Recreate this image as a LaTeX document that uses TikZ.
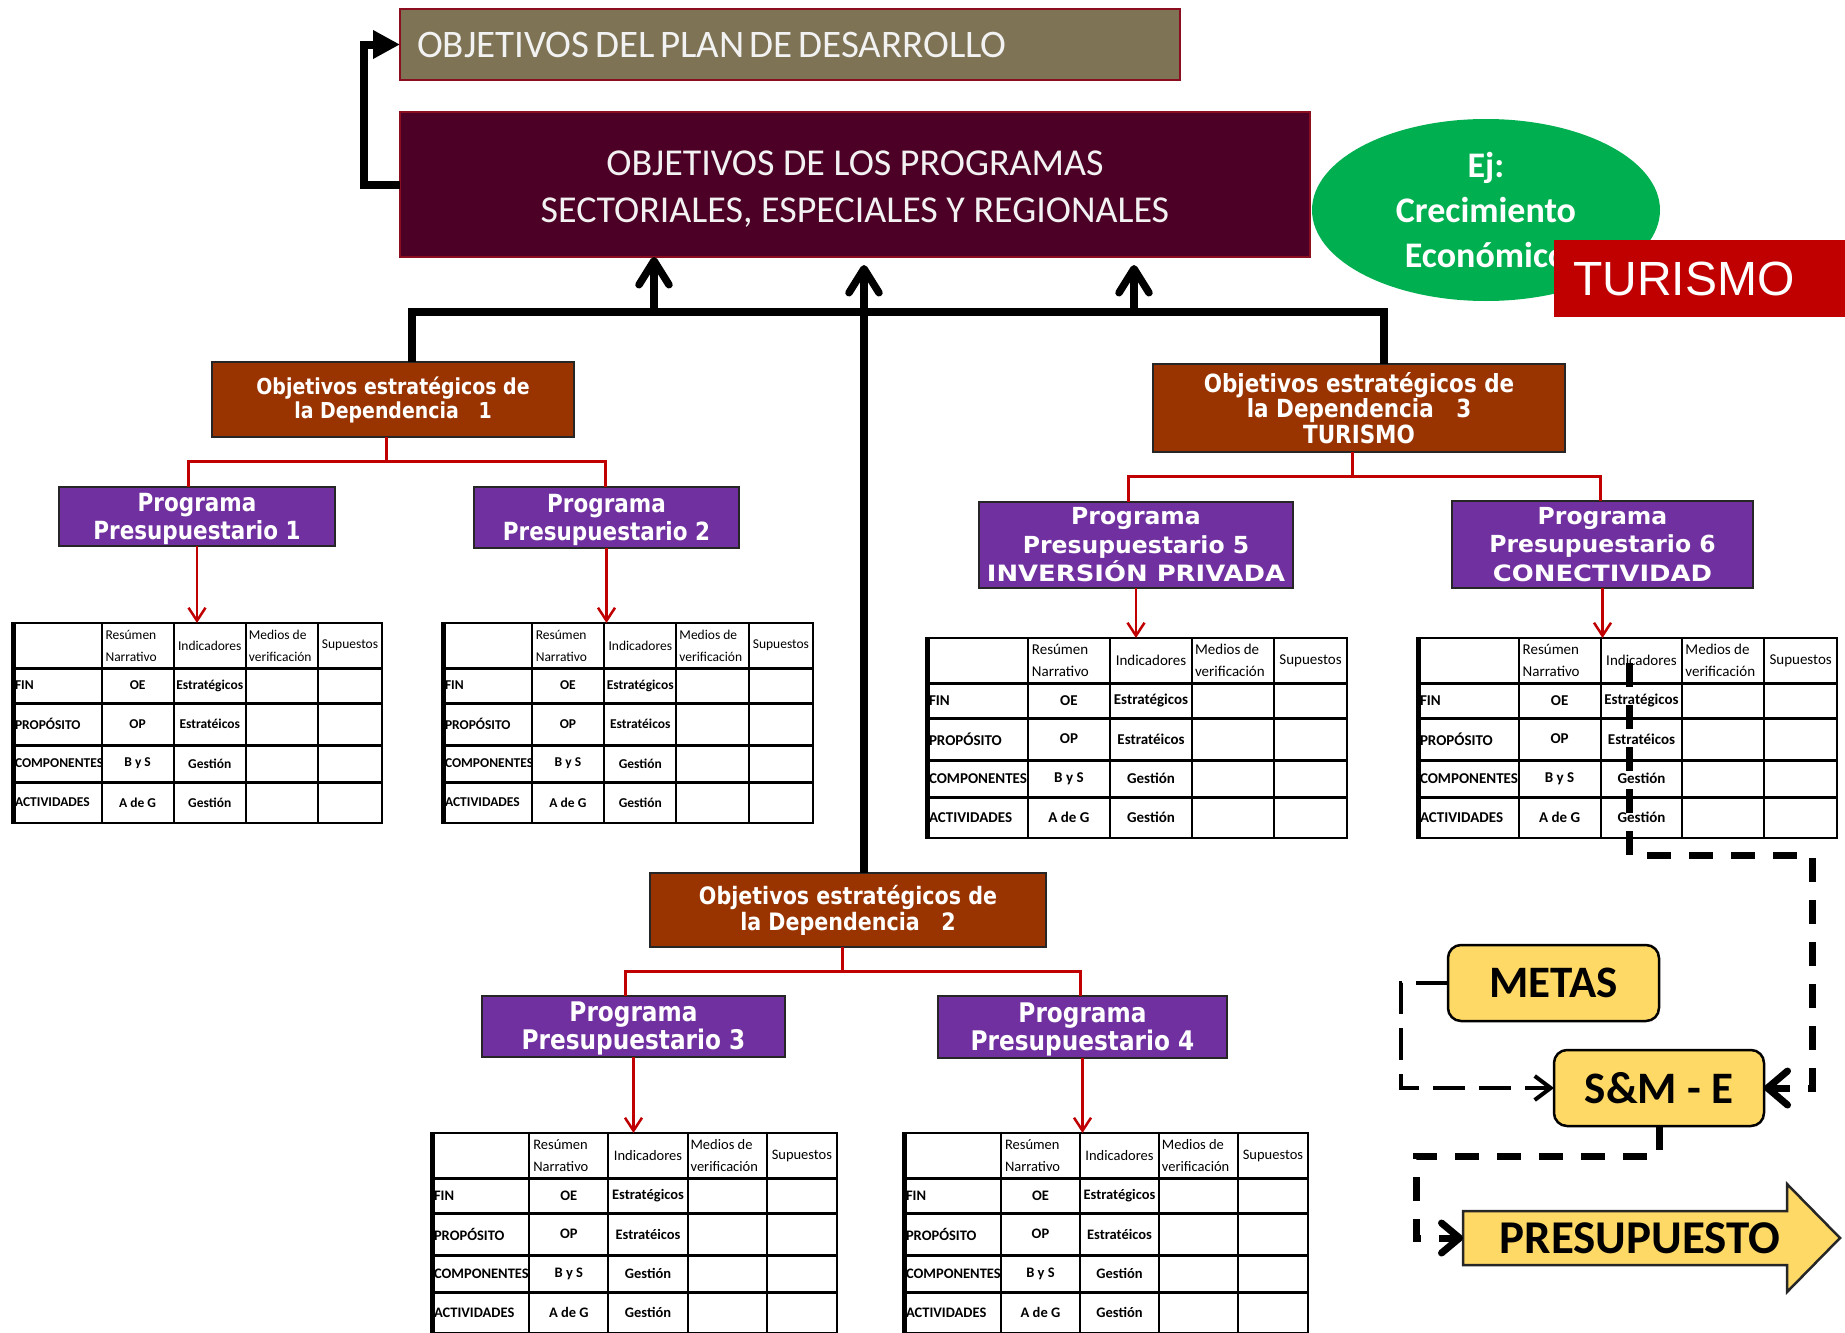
\documentclass[tikz,border=0pt]{standalone}
\usepackage{fontspec}
\setmainfont{Carlito}
\newfontfamily\condfont{DejaVu Sans}[FakeStretch=0.86]
\newfontfamily\plainfont{DejaVu Sans}
\newfontfamily\widefont{DejaVu Sans}[FakeStretch=1.15]
\newfontfamily\arialfont{Liberation Sans}
\usetikzlibrary{arrows.meta,shapes.geometric,backgrounds,calc}

\definecolor{tanbox}{HTML}{7F7355}
\definecolor{maroonbox}{HTML}{4D0026}
\definecolor{boxedge}{HTML}{8B0E20}
\definecolor{depfill}{HTML}{993300}
\definecolor{progfill}{HTML}{7030A0}
\definecolor{linkred}{HTML}{C00000}
\definecolor{ejgreen}{HTML}{00B050}
\definecolor{turred}{HTML}{C00000}
\definecolor{goldfill}{HTML}{FFD966}
\definecolor{lighttext}{HTML}{F2F2F2}

\newcommand{\tightspaces}{\spaceskip=5.5pt plus 1pt\relax}

\tikzset{
  every node/.style={inner sep=0pt, outer sep=0pt},
  plandesbox/.style={fill=tanbox, draw=boxedge, line width=1.5pt, text=lighttext,
    minimum width=780pt, minimum height=71pt, text width=746pt, align=left,
    font=\fontsize{39}{47}\selectfont},
  progsecbox/.style={fill=maroonbox, draw=boxedge, line width=1.5pt, text=lighttext,
    minimum width=910pt, minimum height=145pt, align=center,
    font=\fontsize{38}{47}\selectfont},
  ejell/.style={ellipse, fill=ejgreen, text=white, minimum width=348pt,
    minimum height=182pt, align=center, font=\bfseries\fontsize{36}{45}\selectfont},
  turbox/.style={fill=turred, text=white, minimum width=291pt, minimum height=77pt,
    text width=253pt, align=left, font=\arialfont\fontsize{48}{52}\selectfont},
  depbox/.style={fill=depfill, draw=black!85, line width=1.5pt, text=white, align=center},
  progbox/.style={fill=progfill, draw=black!85, line width=1.5pt, text=white, align=center},
  goldbox/.style={rounded corners=13pt, fill=goldfill, draw=black, line width=2.5pt,
    minimum width=211pt, minimum height=76pt, font=\bfseries\fontsize{45}{50}\selectfont},
  presbody/.style={minimum width=354pt, minimum height=54pt,
    font=\bfseries\fontsize{47}{50}\selectfont},
  blackbus/.style={line width=7.5pt, line join=miter},
  bustip/.style={-{Straight Barb[length=24pt,width=30pt,round]}},
  redlink/.style={draw=linkred, line width=3pt},
  redarrow/.style={draw=linkred, line width=2.5pt, -{Straight Barb[length=13pt,width=17pt]}},
  dashthick/.style={line width=7pt, dash pattern=on 24pt off 18pt},
  dashthin/.style={line width=4pt, dash pattern=on 32pt off 14pt},
  tabframe/.style={draw, line width=2.5pt, minimum height=200pt},
  tabcol/.style={line width=2pt},
  tabrow/.style={line width=3pt},
  tabedge/.style={line width=3pt},
}

% logical framework matrix: #1 name, #2 left, #3 top, #4 width, #5 font size
\newcommand{\lfmtable}[5]{%
  \begin{scope}[shift={(#2,#3)}]
    \node[tabframe, minimum width=#4pt, anchor=north west] (#1) at (0,0) {};
    \foreach \f in {0.242,0.437,0.632,0.827}
      \draw[tabcol] (\f*#4,0) -- (\f*#4,200);
    \foreach \r in {45,80,122,159}
      \draw[tabrow] (0,\r) -- (#4,\r);
    \draw[tabedge] (2,0) -- (2,200);
    \begin{scope}[every node/.append style={font=\fontsize{#5}{22}\selectfont}]
      \node[anchor=west, align=left] (#1-h2) at (0.242*#4+4,22.5) {Resúmen\\Narrativo};
      \node (#1-h3) at (0.5345*#4,22.5) {Indicadores};
      \node[anchor=west, align=left] (#1-h4) at (0.632*#4+3,22.5) {Medios de\\verificación};
      \node (#1-h5) at (0.9135*#4,22.5) {Supuestos};
      \foreach \lab/\nar/\ind/\yc [count=\k] in {FIN/OE/Estratégicos/62.5,
          PROPÓSITO/OP/Estratéicos/101, COMPONENTES/B y S/Gestión/140.5,
          ACTIVIDADES/A de G/Gestión/179.5}{
        \node[anchor=west, font=\bfseries\fontsize{#5}{22}\selectfont] (#1-a\k) at (3,\yc) {\lab};
        \node[font=\bfseries\fontsize{#5}{22}\selectfont] (#1-b\k) at (0.3395*#4,\yc) {\nar};
        \node[font=\bfseries\fontsize{#5}{22}\selectfont] (#1-c\k) at (0.5345*#4,\yc) {\ind};
      }
    \end{scope}
  \end{scope}}

\begin{document}
\begin{tikzpicture}[x=1pt, y=-1pt]
\useasboundingbox (0,0) rectangle (1845,1333);

% top level objectives
\node[plandesbox] (plandes) at (790,44.5) {\tightspaces OBJETIVOS DEL PLAN DE DESARROLLO};
\node[progsecbox] (progsec) at (855,184.5)
  {\rule{0pt}{33pt}OBJETIVOS DE LOS PROGRAMAS\\SECTORIALES, ESPECIALES Y REGIONALES};
\draw[line width=8pt, line join=miter, -{Triangle[length=27pt,width=27pt]}]
  (progsec.west) -- ++(-36,0) |- (plandes.west);

% example
\node[ejell] (ej) at (1486,210) {Ej:\\Crecimiento\\Económico};
\node[turbox] (turtag) at (1699.5,278.5) {TURISMO};

% dependencies
\node[depbox, minimum width=362pt, minimum height=75pt,
  font=\condfont\bfseries\fontsize{22}{24}\selectfont] (dep1) at (393,399.5)
  {Objetivos estratégicos de\\la Dependencia~~~1};
\node[depbox, minimum width=396pt, minimum height=74pt,
  font=\condfont\bfseries\fontsize{24}{25.5}\selectfont] (dep2) at (848,910)
  {\rule{0pt}{20pt}Objetivos estratégicos de\\la Dependencia~~~2};
\node[depbox, minimum width=412pt, minimum height=88pt,
  font=\condfont\bfseries\fontsize{25}{25.5}\selectfont] (dep3) at (1359,408)
  {Objetivos estratégicos de\\la Dependencia~~~3\\TURISMO};

% budget programmes
\node[progbox, minimum width=276pt, minimum height=59pt,
  font=\condfont\bfseries\fontsize{25}{28}\selectfont] (p1) at (197,516.5)
  {\rule{0pt}{24pt}Programa\\Presupuestario 1};
\node[progbox, minimum width=265pt, minimum height=61pt,
  font=\condfont\bfseries\fontsize{25}{28}\selectfont] (p2) at (606.5,517.5)
  {\rule{0pt}{24pt}Programa\\Presupuestario 2};
\node[progbox, minimum width=303pt, minimum height=61pt,
  font=\condfont\bfseries\fontsize{27}{28}\selectfont] (p3) at (633.5,1026.5)
  {\rule{0pt}{24pt}Programa\\Presupuestario 3};
\node[progbox, minimum width=289pt, minimum height=62pt,
  font=\condfont\bfseries\fontsize{27}{28}\selectfont] (p4) at (1082.5,1027)
  {\rule{0pt}{24pt}Programa\\Presupuestario 4};
\node[progbox, minimum width=314pt, minimum height=86pt,
  font=\plainfont\bfseries\fontsize{23.5}{28.5}\selectfont] (p5) at (1136,545)
  {Programa\\Presupuestario 5\\\widefont\fontsize{22.5}{28.5}\selectfont INVERSIÓN PRIVADA};
\node[progbox, minimum width=301pt, minimum height=87pt,
  font=\plainfont\bfseries\fontsize{23.5}{28.5}\selectfont] (p6) at (1602.5,544.5)
  {Programa\\Presupuestario 6\\\widefont\fontsize{22.5}{28.5}\selectfont CONECTIVIDAD};

% black bus towards the programme objectives
\coordinate (busL) at (412,312);
\coordinate (busR) at (1384,312);
\coordinate (up1) at (654,312);
\coordinate (up3) at (1134,312);
\coordinate (up3tip) at (1134,265);
\coordinate (trunktip) at (864,265);
\draw[blackbus] (busL |- dep1.north) -- (busL) -- (busR) -- (busR |- dep3.north);
\draw[blackbus, bustip] (up1) -- (up1 |- progsec.south);
\draw[blackbus, bustip] (up3) -- (up3tip);
\draw[blackbus, bustip] ([xshift=16pt]dep2.north) -- (trunktip);

% red trees
\draw[redlink] ([xshift=-7pt]dep1.south) -- ++(0,24) -| ([xshift=-9pt]p1.north);
\draw[redlink] ([xshift=-7pt]dep1.south) ++(0,24) -| ([xshift=-1.5pt]p2.north);
\draw[redlink] ([xshift=-6pt]dep2.south) -- ++(0,24) -| ([xshift=-8.5pt]p3.north);
\draw[redlink] ([xshift=-6pt]dep2.south) ++(0,24) -| ([xshift=-2.5pt]p4.north);
\draw[redlink] ([xshift=-7pt]dep3.south) -- ++(0,24) -| ([xshift=-8pt]p5.north);
\draw[redlink] ([xshift=-7pt]dep3.south) ++(0,24) -| ([xshift=-2.5pt]p6.north);

% logical framework matrices
\lfmtable{t1}{12}{623}{370}{13.5}
\lfmtable{t2}{442}{623}{371}{13.5}
\lfmtable{t3}{431}{1133}{406}{14.5}
\lfmtable{t4}{903}{1133}{405}{14.5}
\lfmtable{t5}{926}{638}{421}{15}
\lfmtable{t6}{1417}{638}{420}{15}

\foreach \p/\t in {p1/t1,p2/t2,p3/t3,p4/t4,p5/t5,p6/t6}
  \draw[redarrow] (\p.south) -- (\p.south |- \t.north);

% follow-up loop
\node[goldbox] (metas) at (1553.5,983) {METAS};
\node[goldbox, minimum width=210pt] (sme) at (1659,1088) {S\&M - E};
\node[presbody] (presup) at (1640,1238) {PRESUPUESTO};
\begin{scope}[on background layer]
  \draw[fill=goldfill, draw=black!85, line width=2.5pt, line join=miter]
    (presup.west) ++(0,-27) -- ++(324,0) -- ++(0,-27) -- ++(53,54)
    -- ++(-53,54) -- ++(0,-27) -- ++(-324,0) -- cycle;
\end{scope}

\coordinate (t6ind) at ($(t6.north west)+(212,25)$);
\coordinate (loopR) at (1812,855);
\coordinate (loopL) at (1401,1088);
\coordinate (loopB) at (1416,1156);
\draw[dashthick, -{Straight Barb[length=20pt,width=34pt,round]}]
  (t6ind) |- (loopR) |- (sme.east);
\draw[dashthin, -{Straight Barb[length=16pt,width=24pt]}]
  (metas.west) -| (loopL) -- (sme.west);
\draw[dashthick, -{Straight Barb[length=18pt,width=30pt,round]}]
  (sme.south) |- (loopB) |- (presup.west);
\end{tikzpicture}
\end{document}
